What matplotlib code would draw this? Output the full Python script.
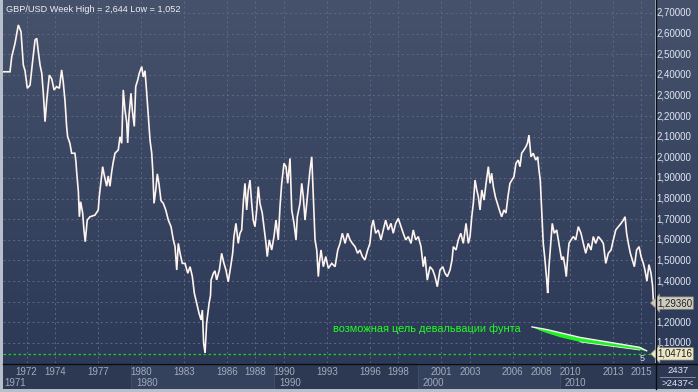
import matplotlib
matplotlib.use('Agg')
import matplotlib.pyplot as plt
import numpy as np
from matplotlib.transforms import blended_transform_factory
from matplotlib.patches import Polygon, Rectangle
from matplotlib.lines import Line2D

# ---------------- data ----------------
years = [1970.35, 1970.84, 1970.96, 1971.19, 1971.42, 1971.61, 1971.77, 1971.89, 1972.05, 1972.24,
         1972.43, 1972.59, 1972.71, 1972.82, 1972.94, 1973.06, 1973.17, 1973.29, 1973.41, 1973.59,
         1973.76, 1973.92, 1974.10, 1974.29, 1974.45, 1974.56, 1974.69, 1974.80, 1974.87, 1975.03,
         1975.15, 1975.38, 1975.45, 1975.50, 1975.62, 1975.69, 1975.78, 1975.92, 1976.01, 1976.10,
         1976.24, 1976.43, 1976.78, 1977.01, 1977.08, 1977.18, 1977.32, 1977.41, 1977.60, 1977.71,
         1977.83, 1977.95, 1978.04, 1978.18, 1978.41, 1978.53, 1978.65, 1978.76, 1978.88, 1979.00,
         1979.07, 1979.16, 1979.30, 1979.39, 1979.53, 1979.63, 1979.77, 1979.88, 1980.05, 1980.16,
         1980.28, 1980.40, 1980.51, 1980.63, 1980.75, 1980.82, 1980.91, 1981.03, 1981.14, 1981.26,
         1981.40, 1981.56, 1981.73, 1981.91, 1982.10, 1982.26, 1982.38, 1982.50, 1982.61, 1982.73,
         1982.89, 1983.08, 1983.27, 1983.43, 1983.59, 1983.73, 1983.90, 1984.06, 1984.20, 1984.29,
         1984.38, 1984.48, 1984.59, 1984.76, 1984.86, 1984.90, 1985.06, 1985.17, 1985.29, 1985.48,
         1985.64, 1985.80, 1985.94, 1986.10, 1986.27, 1986.41, 1986.50, 1986.64, 1986.80, 1986.92,
         1987.04, 1987.15, 1987.27, 1987.39, 1987.50, 1987.62, 1987.74, 1987.85, 1987.97, 1988.09,
         1988.20, 1988.32, 1988.48, 1988.60, 1988.74, 1988.83, 1988.97, 1989.14, 1989.30, 1989.44,
         1989.60, 1989.72, 1989.84, 1990.00, 1990.14, 1990.26, 1990.42, 1990.54, 1990.70, 1990.84,
         1990.93, 1991.12, 1991.24, 1991.35, 1991.47, 1991.59, 1991.70, 1991.82, 1991.94, 1992.05,
         1992.17, 1992.29, 1992.40, 1992.47, 1992.59, 1992.75, 1992.92, 1993.10, 1993.34, 1993.57,
         1993.76, 1993.92, 1994.08, 1994.27, 1994.45, 1994.62, 1994.78, 1994.97, 1995.15, 1995.31,
         1995.48, 1995.66, 1995.85, 1996.01, 1996.13, 1996.24, 1996.41, 1996.59, 1996.78, 1996.94,
         1997.11, 1997.29, 1997.48, 1997.64, 1997.81, 1997.99, 1998.18, 1998.34, 1998.51, 1998.69,
         1998.88, 1999.04, 1999.21, 1999.39, 1999.58, 1999.74, 1999.86, 2000.02, 2000.21, 2000.40,
         2000.56, 2000.72, 2000.91, 2001.10, 2001.26, 2001.42, 2001.61, 2001.75, 2001.84, 2002.03,
         2002.19, 2002.36, 2002.54, 2002.73, 2002.89, 2003.01, 2003.13, 2003.24, 2003.36, 2003.48,
         2003.59, 2003.71, 2003.83, 2003.99, 2004.13, 2004.29, 2004.41, 2004.52, 2004.64, 2004.78,
         2004.92, 2005.06, 2005.22, 2005.38, 2005.52, 2005.66, 2005.80, 2005.94, 2006.08, 2006.22,
         2006.38, 2006.50, 2006.62, 2006.78, 2006.92, 2007.03, 2007.13, 2007.27, 2007.43, 2007.60,
         2007.74, 2007.83, 2007.92, 2008.02, 2008.13, 2008.25, 2008.37, 2008.44, 2008.53, 2008.62,
         2008.76, 2008.90, 2009.07, 2009.18, 2009.30, 2009.42, 2009.53, 2009.65, 2009.74, 2009.84,
         2009.93, 2010.07, 2010.23, 2010.40, 2010.58, 2010.77, 2010.93, 2011.10, 2011.28, 2011.47,
         2011.63, 2011.80, 2011.98, 2012.17, 2012.33, 2012.50, 2012.68, 2012.87, 2013.03, 2013.20,
         2013.38, 2013.57, 2013.73, 2013.85, 2013.96, 2014.08, 2014.22, 2014.36, 2014.50, 2014.66,
         2014.83, 2014.97, 2015.13, 2015.24, 2015.38, 2015.52, 2015.66, 2015.77, 2015.84]
prices = [2.415, 2.415, 2.488, 2.553, 2.642, 2.609, 2.448, 2.420, 2.335, 2.350,
          2.472, 2.569, 2.577, 2.512, 2.448, 2.408, 2.311, 2.173, 2.278, 2.399,
          2.380, 2.327, 2.343, 2.335, 2.424, 2.367, 2.270, 2.149, 2.100, 2.068,
          2.020, 2.020, 1.979, 1.930, 1.834, 1.712, 1.785, 1.730, 1.648, 1.591,
          1.696, 1.712, 1.720, 1.745, 1.809, 1.870, 1.955, 1.920, 1.860, 1.910,
          1.860, 1.930, 1.970, 2.020, 2.036, 2.100, 2.068, 2.327, 2.230, 2.170,
          2.070, 2.200, 2.311, 2.230, 2.150, 2.343, 2.375, 2.408, 2.440, 2.390,
          2.420, 2.311, 2.200, 2.084, 2.020, 1.940, 1.777, 1.840, 1.920, 1.870,
          1.790, 1.777, 1.745, 1.696, 1.664, 1.600, 1.567, 1.454, 1.583, 1.535,
          1.486, 1.486, 1.438, 1.470, 1.422, 1.341, 1.292, 1.244, 1.212, 1.260,
          1.099, 1.052, 1.196, 1.292, 1.330, 1.405, 1.438, 1.450, 1.406, 1.454,
          1.535, 1.486, 1.454, 1.397, 1.470, 1.535, 1.616, 1.680, 1.583, 1.632,
          1.648, 1.777, 1.874, 1.745, 1.840, 1.890, 1.777, 1.696, 1.664, 1.745,
          1.858, 1.777, 1.730, 1.664, 1.583, 1.519, 1.600, 1.551, 1.616, 1.696,
          1.600, 1.761, 1.874, 1.971, 1.955, 1.874, 1.995, 1.745, 1.680, 1.600,
          1.712, 1.777, 1.874, 1.809, 1.696, 1.777, 1.858, 1.939, 2.003, 1.809,
          1.600, 1.551, 1.422, 1.486, 1.551, 1.470, 1.519, 1.462, 1.486, 1.470,
          1.551, 1.583, 1.632, 1.583, 1.632, 1.600, 1.583, 1.567, 1.535, 1.551,
          1.519, 1.503, 1.551, 1.583, 1.664, 1.696, 1.632, 1.648, 1.600, 1.648,
          1.696, 1.648, 1.680, 1.632, 1.680, 1.704, 1.664, 1.632, 1.600, 1.616,
          1.583, 1.648, 1.600, 1.616, 1.567, 1.470, 1.519, 1.405, 1.470, 1.454,
          1.422, 1.373, 1.454, 1.470, 1.438, 1.422, 1.454, 1.503, 1.567, 1.551,
          1.600, 1.632, 1.583, 1.680, 1.583, 1.616, 1.712, 1.777, 1.890, 1.842,
          1.809, 1.745, 1.842, 1.793, 1.874, 1.955, 1.874, 1.923, 1.858, 1.809,
          1.777, 1.745, 1.712, 1.745, 1.730, 1.809, 1.874, 1.890, 1.906, 1.971,
          1.987, 1.955, 2.020, 2.036, 2.052, 2.070, 2.108, 2.003, 2.020, 1.987,
          2.003, 1.939, 1.890, 1.745, 1.583, 1.503, 1.406, 1.342, 1.470, 1.551,
          1.680, 1.632, 1.648, 1.600, 1.551, 1.503, 1.519, 1.470, 1.422, 1.519,
          1.583, 1.600, 1.616, 1.600, 1.664, 1.632, 1.583, 1.535, 1.583, 1.551,
          1.616, 1.583, 1.616, 1.600, 1.583, 1.486, 1.535, 1.551, 1.600, 1.648,
          1.664, 1.680, 1.696, 1.712, 1.632, 1.583, 1.535, 1.503, 1.470, 1.551,
          1.567, 1.519, 1.486, 1.454, 1.400, 1.480, 1.440, 1.380, 1.2936]

year_labels = [1972, 1974, 1977, 1980, 1983, 1986, 1988, 1990, 1993, 1996,
               1998, 2001, 2003, 2006, 2008, 2010, 2013, 2015]
decade_labels = ['1971', '1980', '1990', '2000', '2010']
decade_starts = [1970.10, 1979.30, 1989.30, 1999.37, 2009.30]
price_ticks = [2.7, 2.6, 2.5, 2.4, 2.3, 2.2, 2.1, 2.0, 1.9, 1.8, 1.7, 1.6, 1.5, 1.4, 1.2, 1.1]
grid_prices = [2.7, 2.6, 2.5, 2.4, 2.3, 2.2, 2.1, 2.0, 1.9, 1.8, 1.7, 1.6, 1.5, 1.4, 1.3, 1.2, 1.1]
last_price = 1.29360
low_mark = 1.04716
title = "GBP/USD Week High = 2,644 Low = 1,052"
note = "возможная цель девальвации фунта"
bars_count = 2437
# hand-drawn target stroke (year, price)
stroke_top = [(2007.34, 1.178), (2008.39, 1.165), (2009.30, 1.150), (2010.70, 1.127),
              (2012.80, 1.103), (2014.87, 1.079), (2015.36, 1.062)]
stroke_bottom = [(2014.87, 1.066), (2012.80, 1.085), (2010.70, 1.105), (2009.30, 1.128),
                 (2008.39, 1.148), (2007.90, 1.160)]

# ---------------- layout ----------------
W, H = 698, 392
fig = plt.figure(figsize=(W / 100, H / 100), dpi=100)
fig.patch.set_facecolor('#b7bfcb')
plt.rcParams['font.family'] = ['Liberation Sans', 'DejaVu Sans']


def frect(x0, y0, x1, y1):
    return [x0 / W, 1 - y1 / H, (x1 - x0) / W, (y1 - y0) / H]


def gradient(axx, top, bottom):
    t = np.linspace(0, 1, 256)[:, None]
    c1 = np.array(matplotlib.colors.to_rgb(top))
    c2 = np.array(matplotlib.colors.to_rgb(bottom))
    img = (c1[None, None, :] * (1 - t[..., None]) + c2[None, None, :] * t[..., None])
    axx.imshow(img, extent=[0, 1, 0, 1], transform=axx.transAxes, aspect='auto',
               zorder=0, interpolation='bilinear')


xmin = 1980 + (3 - 141) / 14.3
xmax = 1980 + (655 - 141) / 14.3
ymax = 2.7 + 13 / 206.25
ymin = 2.7 - 350 / 206.25

ax = fig.add_axes(frect(3, 0, 655, 363))
gradient(ax, '#46526b', '#2c3957')
ax.set_xlim(xmin, xmax)
ax.set_ylim(ymin, ymax)
for s in ax.spines.values():
    s.set_visible(False)
ax.set_xticks([])
ax.set_yticks([])

for gp in grid_prices:
    ax.axhline(gp, color='#5d6984', lw=0.7, ls=(0, (2, 3)), zorder=1)
for yl in year_labels:
    ax.axvline(yl, color='#5d6984', lw=0.7, ls=(0, (2, 3)), zorder=1)

ax.axhline(low_mark, color='#19d619', lw=0.9, ls=(0, (2, 2)), zorder=2)
ax.plot(years, prices, color='#fff4ef', lw=1.2, zorder=3, solid_joinstyle='miter')

ax.text(0.004, 0.985, title, transform=ax.transAxes, ha='left', va='top',
        fontsize=6.6, color='#eef0f4', zorder=5)

poly = Polygon(stroke_top + stroke_bottom, closed=True, facecolor='#22f022',
               edgecolor='none', zorder=4)
ax.add_patch(poly)
tx, ty = zip(*stroke_top)
ax.plot(tx, ty, color='#f4f8f4', lw=1.0, zorder=5)
bx, by = zip(*stroke_bottom[:3])
ax.plot(bx, by, color='#e8f4e8', lw=0.6, zorder=5)
ax.text(1993.43, 1.168, note, ha='left', va='center', fontsize=7.9,
        color='#20ff20', zorder=5)
ax.text(2015.03, 1.026, '5', ha='center', va='center', fontsize=6.5,
        color='#dfe3ee', zorder=5)

# right price panel
axr = fig.add_axes(frect(656, 0, 698, 363))
gradient(axr, '#46526b', '#2c3957')
axr.set_ylim(ymin, ymax)
axr.set_xlim(0, 1)
axr.axis('off')
tr = blended_transform_factory(axr.transAxes, axr.transData)
for p in price_ticks:
    axr.text(0.84, p, f"{p:.5f}".replace('.', ','), transform=tr, ha='right',
             va='center', fontsize=7, color='#dfe6f5')
for val, fc in [(last_price, '#cfccc0'), (low_mark, '#ece8c6')]:
    axr.text(0.86, val, f"{val:.5f}".replace('.', ','), transform=tr, ha='right',
             va='center', fontsize=7, color='#202020', clip_on=False,
             bbox=dict(boxstyle='larrow,pad=0.12', fc=fc, ec='#8a8a80', lw=0.5))

# bottom time panel
axb = fig.add_axes(frect(3, 363, 656, 389))
axb.set_facecolor('#2d3953')
axb.set_xlim(xmin, xmin + (xmax - xmin) * (653 / 652))
axb.set_ylim(0, 1)
axb.set_xticks([])
axb.set_yticks([])
for s in axb.spines.values():
    s.set_visible(False)
for i, ds in enumerate(decade_starts):
    if i in (1, 3):
        axb.add_patch(Rectangle((ds, 0), decade_starts[i + 1] - ds, 1,
                                facecolor='#34425d', edgecolor='none', zorder=0))
    axb.axvline(ds, color='#3e4c66', lw=0.8, zorder=1)
for yl in year_labels:
    axb.text(yl, 0.66, str(yl), ha='center', va='center', fontsize=7, color='#a3abbb')
for lab, ds in zip(decade_labels, decade_starts):
    axb.text(ds + 0.35, 0.24, lab, ha='left', va='center', fontsize=7, color='#a3abbb')

# bottom right box
axbr = fig.add_axes(frect(656, 363, 698, 389))
axbr.set_facecolor('#2d3953')
axbr.set_xlim(0, 1)
axbr.set_ylim(0, 1)
axbr.set_xticks([])
axbr.set_yticks([])
for s in axbr.spines.values():
    s.set_visible(False)
axbr.text(0.52, 0.70, str(bars_count), ha='center', va='center', fontsize=6.8, color='#dfe6f5')
axbr.plot([0.1, 0.92], [0.46, 0.46], color='#8d97ab', lw=0.6)
axbr.text(0.52, 0.22, f">{bars_count}<", ha='center', va='center', fontsize=6.8, color='#dfe6f5')

# black separators
fig.add_artist(Line2D([3 / W, 1], [1 - 363.5 / H, 1 - 363.5 / H], color='#0a0d14', lw=1.0))
fig.add_artist(Line2D([655.5 / W, 655.5 / W], [1 - 389 / H, 1], color='#0a0d14', lw=1.0))

fig.savefig('out.png', dpi=100, facecolor=fig.get_facecolor())
